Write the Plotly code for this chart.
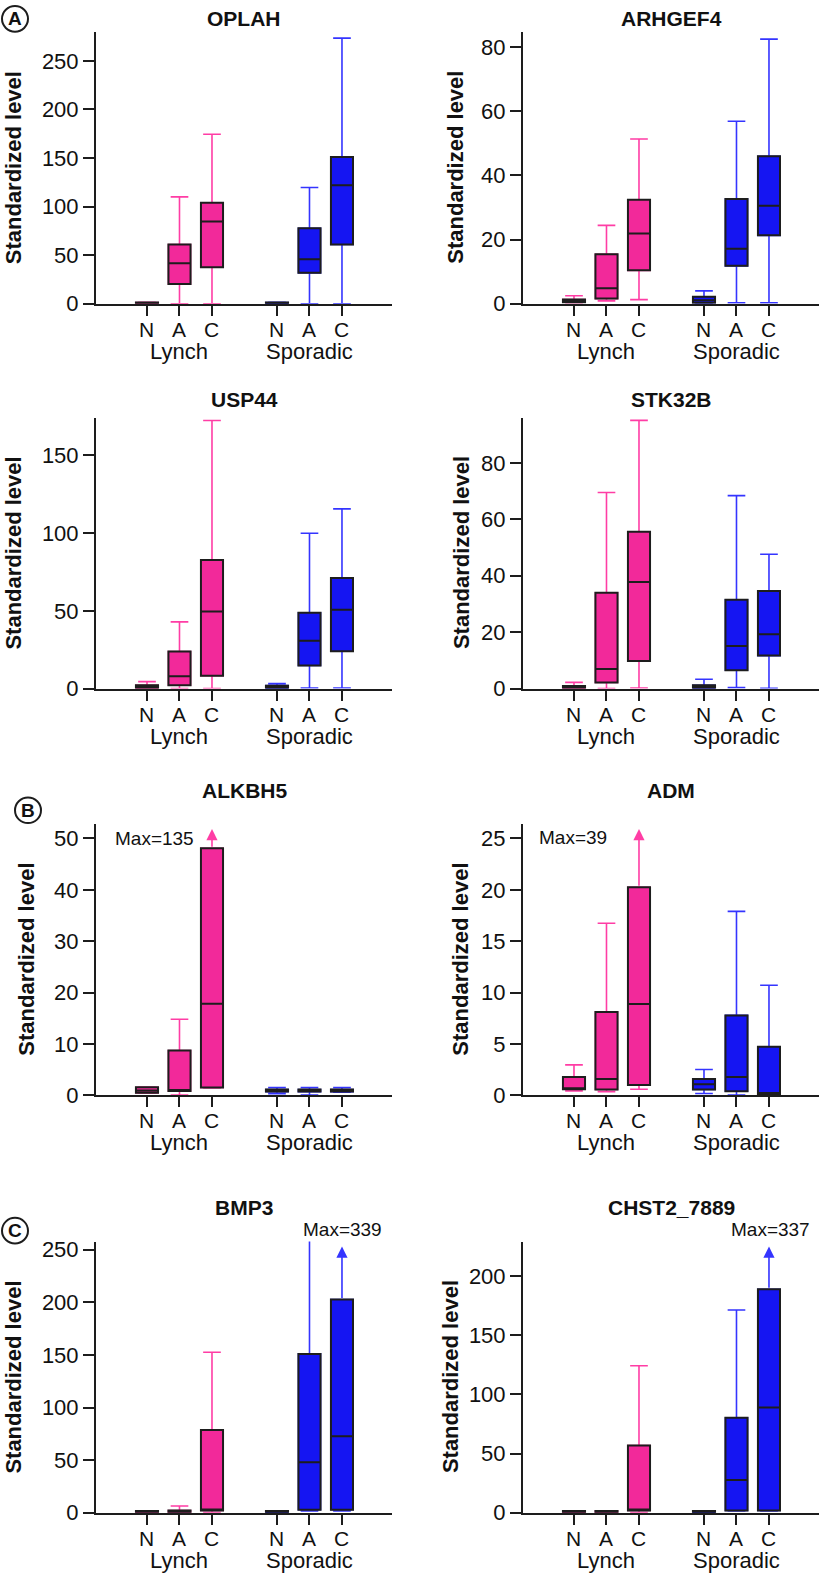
import plotly.graph_objects as go

# ---------------- data ----------------
GENES = ["OPLAH", "ARHGEF4", "USP44", "STK32B", "ALKBH5", "ADM", "BMP3", "CHST2_7889"]
CATEGORIES = ["N", "A", "C"]
GROUPS = ["Lynch", "Sporadic"]

# each row (N, A, C): [lower whisker, Q1, median, Q3, upper whisker]
OPLAH_LYNCH = [[0, 0, 0.6, 1.2, 1.5], [0, 20.3, 41.7, 61.0, 110.0], [0, 37.6, 84.7, 104.0, 174.5]]
OPLAH_SPORADIC = [[0, 0, 0.6, 1.2, 1.5], [0, 31.8, 45.7, 77.6, 119.6], [0, 61.0, 122.0, 151.0, 273.4]]
ARHGEF4_LYNCH = [[0.3, 0.5, 1.0, 1.3, 2.5], [0.9, 1.6, 4.8, 15.4, 24.4], [1.3, 10.4, 21.9, 32.4, 51.3]]
ARHGEF4_SPORADIC = [[0, 0.3, 1.1, 2.2, 4.0], [0.3, 11.8, 17.1, 32.6, 56.8], [0.3, 21.3, 30.5, 45.9, 82.4]]
USP44_LYNCH = [[0, 0, 1.0, 2.1, 4.5], [0, 2.1, 7.9, 23.8, 42.9], [0, 8.3, 49.6, 82.7, 172.5]]
USP44_SPORADIC = [[0, 0, 1.0, 1.9, 3.2], [0.4, 14.9, 30.8, 48.8, 99.9], [0.4, 24.0, 50.7, 71.1, 115.6]]
STK32B_LYNCH = [[0, 0, 0.5, 0.9, 2.2], [0, 2.2, 6.9, 34.0, 69.5], [0.2, 9.8, 37.8, 55.6, 95.1]]
STK32B_SPORADIC = [[0, 0, 0.6, 1.2, 3.3], [0.35, 6.5, 15.1, 31.5, 68.4], [0.1, 11.7, 19.3, 34.6, 47.6]]
ALKBH5_LYNCH = [[0.4, 0.45, 0.9, 1.55, 1.6], [0, 0.8, 0.9, 8.7, 14.8], [1.4, 1.5, 17.8, 48.1, 135]]
ALKBH5_SPORADIC = [[0.3, 0.7, 0.9, 1.1, 1.5], [0, 0.7, 0.9, 1.1, 1.5], [0.6, 0.7, 0.9, 1.1, 1.5]]
ADM_LYNCH = [[0.42, 0.58, 0.67, 1.77, 2.95], [0.35, 0.55, 1.57, 8.09, 16.75], [0.58, 0.99, 8.89, 20.25, 39]]
ADM_SPORADIC = [[0.16, 0.55, 1.06, 1.57, 2.5], [0, 0.39, 1.77, 7.77, 17.9], [0, 0.06, 0.22, 4.72, 10.7]]
BMP3_LYNCH = [[0, 0, 0.7, 1.5, 1.5], [0, 0, 1.0, 2.0, 6.3], [0, 2.0, 2.5, 78.6, 152.6]]
BMP3_SPORADIC = [[0, 0, 0.7, 1.5, 1.5], [1.6, 2.8, 47.9, 151.0, 280.0], [1.6, 2.8, 72.7, 202.7, 339]]
CHST2_LYNCH = [[0, 0, 0.7, 1.4, 1.4], [0, 0, 0.7, 1.4, 1.4], [0, 1.9, 2.2, 56.8, 124.2]]
CHST2_SPORADIC = [[0, 0, 0.7, 1.4, 1.4], [1.4, 1.9, 27.6, 80.2, 171.3], [1.4, 1.9, 88.9, 188.9, 337]]

Y_TOP = [280, 84.7, 174.4, 96.1, 52.8, 26.4, 257.8, 229.2]
Y_DTICK = [50, 20, 50, 20, 10, 5, 50, 50]

# boxes whose maximum is off-scale (drawn with an arrow + "Max=" label)
OFFSCALE = [("ALKBH5", "Lynch", "C"), ("ADM", "Lynch", "C"),
            ("BMP3", "Sporadic", "C"), ("CHST2_7889", "Sporadic", "C")]

PANEL_LETTERS = ["A", "B", "C"]

DATA = {
    "OPLAH": (OPLAH_LYNCH, OPLAH_SPORADIC),
    "ARHGEF4": (ARHGEF4_LYNCH, ARHGEF4_SPORADIC),
    "USP44": (USP44_LYNCH, USP44_SPORADIC),
    "STK32B": (STK32B_LYNCH, STK32B_SPORADIC),
    "ALKBH5": (ALKBH5_LYNCH, ALKBH5_SPORADIC),
    "ADM": (ADM_LYNCH, ADM_SPORADIC),
    "BMP3": (BMP3_LYNCH, BMP3_SPORADIC),
    "CHST2_7889": (CHST2_LYNCH, CHST2_SPORADIC),
}

# ---------------- style / layout ----------------
W, H = 819, 1586
FONT = "Liberation Sans, Arial, Helvetica, sans-serif"
TXT = "#111111"
DARK = "#1d1d1d"
FILL = {"Lynch": "#F2299A", "Sporadic": "#1515F2"}
WHISK = {"Lynch": "#FF3DA5", "Sporadic": "#3434FF"}
X_POS = {"Lynch": [1, 2, 3], "Sporadic": [5, 6, 7]}
X_RANGE = [-0.569, 8.539]
BOX_W = 0.68

COLS = [(96, 392), (523, 819)]
ROW_TOP = [28, 418, 829, 1251]
ROW_BOT = [303, 692, 1103, 1525]
TITLE_Y = [15, 400, 795, 1217]
YTITLE_X = [(13.5, 456), (13.5, 461), (27, 461), (13.5, 450)]
# Max label anchor in pixels: (x, y, xanchor)
MAXLAB_PX = {"ALKBH5": (113, 844, "left"), "ADM": (537, 843, "left"),
             "BMP3": (384, 1239, "right"), "CHST2_7889": (812, 1239, "right")}
LETTER_PX = [(15, 15), (28, 815), (15, 1240)]


def px_x(p):
    return p / W


def px_y(p):
    return 1 - p / H


fig = go.Figure()
layout = dict(
    width=W, height=H, margin=dict(l=0, r=0, t=0, b=0, pad=0),
    paper_bgcolor="white", plot_bgcolor="white", showlegend=False,
    boxmode="overlay", font=dict(family=FONT, color=TXT),
)
annotations = []
shapes = []

for i, gene in enumerate(GENES):
    r, c = divmod(i, 2)
    n = i + 1
    xa = "x" if n == 1 else f"x{n}"
    ya = "y" if n == 1 else f"y{n}"
    xkey = "xaxis" if n == 1 else f"xaxis{n}"
    ykey = "yaxis" if n == 1 else f"yaxis{n}"
    x0, x1 = COLS[c]
    top, bot = ROW_TOP[r], ROW_BOT[r]

    layout[xkey] = dict(
        domain=[px_x(x0), px_x(x1)], range=X_RANGE, anchor=ya,
        tickmode="array", tickvals=X_POS["Lynch"] + X_POS["Sporadic"],
        showticklabels=False,
        ticks="outside", ticklen=10, tickwidth=2, tickcolor=DARK,
        showline=True, linewidth=2, linecolor=DARK,
        showgrid=False, zeroline=False, fixedrange=True,
    )
    layout[ykey] = dict(
        domain=[px_y(bot), px_y(top)], range=[0, Y_TOP[i]], anchor=xa,
        tickmode="linear", tick0=0, dtick=Y_DTICK[i],
        ticks="outside", ticklen=11, tickwidth=2, tickcolor=DARK,
        showline=True, linewidth=2, linecolor=DARK,
        showgrid=False, zeroline=False, fixedrange=True,
        tickfont=dict(size=22, family=FONT, color=TXT),
    )

    for grp, stats in zip(GROUPS, DATA[gene]):
        lo = [s[0] for s in stats]
        q1 = [s[1] for s in stats]
        med = [s[2] for s in stats]
        q3 = [s[3] for s in stats]
        hi = [s[4] for s in stats]
        hi_draw = list(hi)
        for k, cat in enumerate(CATEGORIES):
            if (gene, grp, cat) in OFFSCALE:
                hi_draw[k] = q3[k]
                tip = Y_TOP[i] * 0.982
                annotations.append(dict(
                    x=X_POS[grp][k], y=tip, ax=X_POS[grp][k], ay=q3[k],
                    xref=xa, yref=ya, axref=xa, ayref=ya, text="",
                    showarrow=True, arrowhead=2, arrowsize=1.4, arrowwidth=1.6,
                    arrowcolor=WHISK[grp], standoff=0, startstandoff=0,
                ))
                mx, my, manc = MAXLAB_PX[gene]
                annotations.append(dict(
                    x=px_x(mx), y=px_y(my), xref="paper", yref="paper",
                    text=f"Max={hi[k]}", showarrow=False,
                    xanchor=manc, yanchor="middle",
                    font=dict(size=19, family=FONT, color=TXT),
                ))
        # whiskers (coloured)
        fig.add_trace(go.Box(
            x=X_POS[grp], q1=q1, median=med, q3=q3, lowerfence=lo, upperfence=hi_draw,
            width=BOX_W, whiskerwidth=0.8, boxpoints=False,
            line=dict(color=WHISK[grp], width=1.6), fillcolor=FILL[grp],
            xaxis=xa, yaxis=ya, hoverinfo="skip",
        ))
        # boxes (dark outline)
        fig.add_trace(go.Box(
            x=X_POS[grp], q1=q1, median=med, q3=q3, lowerfence=q1, upperfence=q3,
            width=BOX_W, whiskerwidth=0, boxpoints=False,
            line=dict(color=DARK, width=2), fillcolor=FILL[grp],
            xaxis=xa, yaxis=ya, hoverinfo="skip",
        ))
        # category labels + group label
        for k, cat in enumerate(CATEGORIES):
            annotations.append(dict(
                x=X_POS[grp][k], y=px_y(bot + 26), xref=xa, yref="paper",
                text=cat, showarrow=False, xanchor="center", yanchor="middle",
                font=dict(size=21, family=FONT, color=TXT),
            ))
        annotations.append(dict(
            x=X_POS[grp][1], y=px_y(bot + 48), xref=xa, yref="paper",
            text=grp, showarrow=False, xanchor="center", yanchor="middle",
            font=dict(size=22, family=FONT, color=TXT),
        ))

    # panel title
    annotations.append(dict(
        x=px_x((x0 + x1) / 2), y=px_y(TITLE_Y[r]), xref="paper", yref="paper",
        text=f"<b>{gene}</b>", showarrow=False, xanchor="center", yanchor="middle",
        font=dict(size=21, family=FONT, color=TXT),
    ))
    # y-axis title
    annotations.append(dict(
        x=px_x(YTITLE_X[r][c]), y=px_y((top + bot) / 2), xref="paper", yref="paper",
        text="<b>Standardized level</b>", showarrow=False, textangle=-90,
        xanchor="center", yanchor="middle",
        font=dict(size=22, family=FONT, color=TXT),
    ))

# panel letters in circles
for letter, (cx, cy) in zip(PANEL_LETTERS, LETTER_PX):
    rad = 13
    shapes.append(dict(
        type="circle", xref="paper", yref="paper",
        x0=px_x(cx - rad), x1=px_x(cx + rad), y0=px_y(cy + rad), y1=px_y(cy - rad),
        line=dict(color=DARK, width=2), fillcolor="white",
    ))
    annotations.append(dict(
        x=px_x(cx), y=px_y(cy), xref="paper", yref="paper",
        text=f"<b>{letter}</b>", showarrow=False, xanchor="center", yanchor="middle",
        font=dict(size=19, family=FONT, color=TXT),
    ))

layout["annotations"] = annotations
layout["shapes"] = shapes
fig.update_layout(**layout)
fig.write_html(
    "out.html",
    config={"displayModeBar": False, "staticPlot": True},
    post_script="document.body.style.margin='0';document.body.style.padding='0';"
                "document.body.style.overflow='hidden';",
)
